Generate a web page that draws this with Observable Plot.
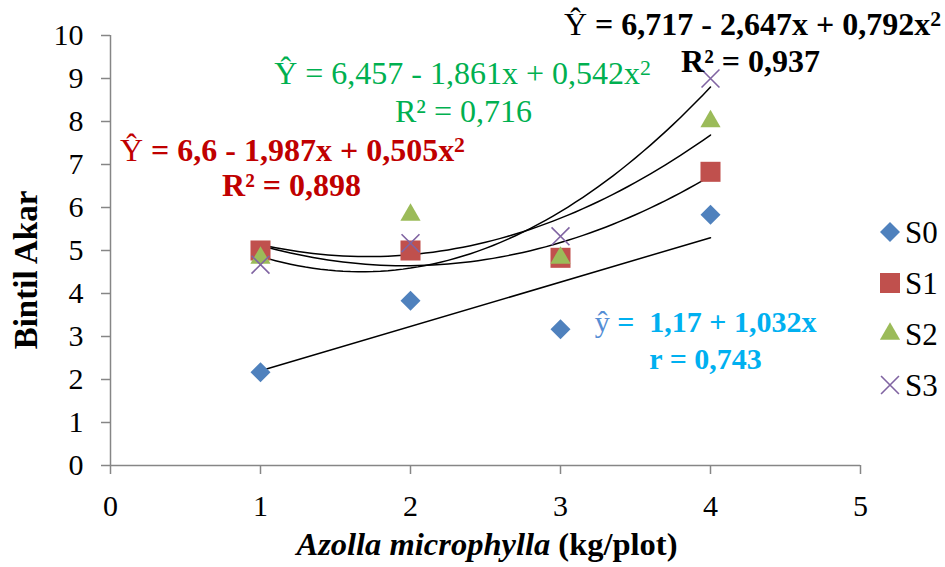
<!DOCTYPE html>
<html><head><meta charset="utf-8">
<script src="https://cdn.jsdelivr.net/npm/d3@7"></script>
<script src="https://cdn.jsdelivr.net/npm/@observablehq/plot@0.6"></script>
<style>
body{margin:0;background:#fff;}
#chart{position:relative;width:945px;height:567px;}
#chart svg text, #chart svg tspan{font-family:"Liberation Serif", serif !important;}
</style></head><body><div id="chart"></div>
<script>
// ---- data ----
const xValues = [1, 2, 3, 4];
const s0 = [2.17, 3.83, 3.17, 5.83];
const s1 = [5.0, 5.0, 4.83, 6.83];
const s2 = [4.83, 5.83, 4.83, 8.0];
const s3 = [4.67, 5.17, 5.33, 9.0];
const seriesNames = ["S0", "S1", "S2", "S3"];
const seriesColors = ["#4f81bd", "#c0504d", "#9bbb59", "#8064a2"];
const seriesSymbols = ["diamond2", "square", "triangle", "times"];
const seriesR = [9, 11.3, 7.5, 8.2];
// quadratic trendline coefficients (a + b x + c x^2) as printed
const fitS1 = [6.6, -1.987, 0.505];
const fitS2 = [6.457, -1.861, 0.542];
const fitS3 = [6.717, -2.647, 0.792];
const xTicks = [0, 1, 2, 3, 4, 5];
const yTicks = [0, 1, 2, 3, 4, 5, 6, 7, 8, 9, 10];
// annotations
const annoText = ["Ŷ = 6,717 - 2,647x + 0,792x²", "R² = 0,937",
                  "Ŷ = 6,457 - 1,861x + 0,542x²", "R² = 0,716",
                  "Ŷ = 6,6 - 1,987x + 0,505x²", "R² = 0,898",
                  "ŷ =  1,17 + 1,032x", "r = 0,743"];
const annoX = [4.28, 4.267, 2.347, 2.353, 1.213, 1.207, 3.967, 3.967];
const annoY = [10.256, 9.395, 9.116, 8.233, 7.326, 6.512, 3.326, 2.465];
const annoColor = ["#000000", "#000000", "#00b050", "#00b050", "#c00000", "#c00000", "#00b0f0", "#00b0f0"];
const annoBold = [true, true, false, false, true, true, true, true];
const annoSize = [32, 32, 32, 32, 32, 32, 30, 30];
const hatColor = ["#000000", null, "#00b050", null, "#c00000", null, "#558ed5", null];

// ---- build rows ----
const seriesVals = [s0, s1, s2, s3];
const rows = seriesVals.map((vals) => xValues.map((x, i) => ({x, y: vals[i]})));
const curve = (c) => d3.range(1, 4.0001, 0.05).map(x => ({x, y: c[0] + c[1] * x + c[2] * x * x}));
const fits = [fitS1, fitS2, fitS3];

const FONT = "Liberation Serif";
const marks = [
  Plot.ruleY([0], {stroke: "#868686", strokeWidth: 1.5}),
  Plot.ruleX([0], {stroke: "#868686", strokeWidth: 1.5}),
  Plot.axisX({ticks: xTicks, tickSize: 9, tickPadding: 20, stroke: "#868686", strokeWidth: 1.5, fill: "black", fontSize: 30, label: null, tickFormat: d => String(d)}),
  Plot.axisY({ticks: yTicks, tickSize: 9, tickPadding: 18, stroke: "#868686", strokeWidth: 1.5, fill: "black", fontSize: 30, label: null, tickFormat: d => String(d)}),
  Plot.linearRegressionY(rows[0], {x: "x", y: "y", stroke: "black", strokeWidth: 1.5, ci: 0}),
  ...fits.map(c => Plot.line(curve(c), {x: "x", y: "y", stroke: "black", strokeWidth: 1.5})),
  ...seriesVals.map((v, k) => Plot.dot(rows[k], {
    x: "x", y: "y", symbol: seriesSymbols[k], r: seriesR[k],
    fill: seriesSymbols[k] === "times" ? "none" : seriesColors[k],
    stroke: seriesSymbols[k] === "times" ? seriesColors[k] : "none",
    strokeWidth: 1.6
  })),
  ...annoText.map((t, i) => Plot.text([t], {
    x: () => annoX[i], y: () => annoY[i], text: d => d,
    fill: annoColor[i], fontWeight: annoBold[i] ? "bold" : "normal",
    fontSize: annoSize[i], fontFamily: FONT, textAnchor: "middle", lineAnchor: "middle"
  }))
];

const fig = Plot.plot({
  width: 945, height: 567,
  marginLeft: 110, marginRight: 85, marginTop: 35, marginBottom: 102,
  x: {domain: [0, 5]},
  y: {domain: [0, 10]},
  style: {fontFamily: FONT, fontSize: "30px", color: "black", background: "white", overflow: "visible"},
  marks
});
fig.setAttribute("font-family", FONT);
document.getElementById("chart").appendChild(fig);

const svg = d3.select(fig);
// rich text post-processing for annotations
svg.selectAll("text").each(function() {
  const el = this;
  const idx = annoText.indexOf(el.textContent);
  if (idx < 0) return;
  const t = annoText[idx];
  const sel = d3.select(el).style("white-space", "pre");
  el.textContent = "";
  let body = t;
  if (t.startsWith("Ŷ") || t.startsWith("ŷ")) {
    sel.append("tspan").attr("font-weight", "normal").attr("fill", hatColor[idx]).text(t[0]);
    body = t.slice(1);
  }
  if (body.endsWith("x²")) {
    sel.append("tspan").text(body.slice(0, -1));
    sel.append("tspan").attr("font-size", "0.68em").attr("dy", "-0.42em").text("2");
  } else {
    sel.append("tspan").text(body);
  }
});

// axis titles
svg.append("text")
  .attr("transform", "translate(37,270) rotate(-90)")
  .attr("text-anchor", "middle").attr("font-weight", "bold").attr("font-size", 33)
  .attr("fill", "black").attr("font-family", FONT)
  .text("Bintil Akar");
const xt = svg.append("text")
  .attr("x", 487).attr("y", 555)
  .attr("text-anchor", "middle").attr("font-weight", "bold").attr("font-size", 32.5)
  .attr("fill", "black").attr("font-family", FONT);
xt.append("tspan").attr("font-style", "italic").text("Azolla microphylla");
xt.append("tspan").text(" (kg/plot)");

// legend
const symMap = {diamond2: d3.symbolDiamond2, square: d3.symbolSquare, triangle: d3.symbolTriangle, times: d3.symbolTimes};
const lg = svg.append("g");
seriesNames.forEach((name, k) => {
  const cy = 232 + 51 * k;
  const isT = seriesSymbols[k] === "times";
  lg.append("path")
    .attr("transform", `translate(890,${cy})`)
    .attr("d", d3.symbol(symMap[seriesSymbols[k]], Math.PI * seriesR[k] * seriesR[k])())
    .attr("fill", isT ? "none" : seriesColors[k])
    .attr("stroke", isT ? seriesColors[k] : "none")
    .attr("stroke-width", 1.6);
  lg.append("text").attr("x", 905).attr("y", cy + 10.5)
    .attr("text-anchor", "start")
    .attr("font-size", 31).attr("fill", "black").attr("font-family", FONT)
    .text(name);
});
</script></body></html>
